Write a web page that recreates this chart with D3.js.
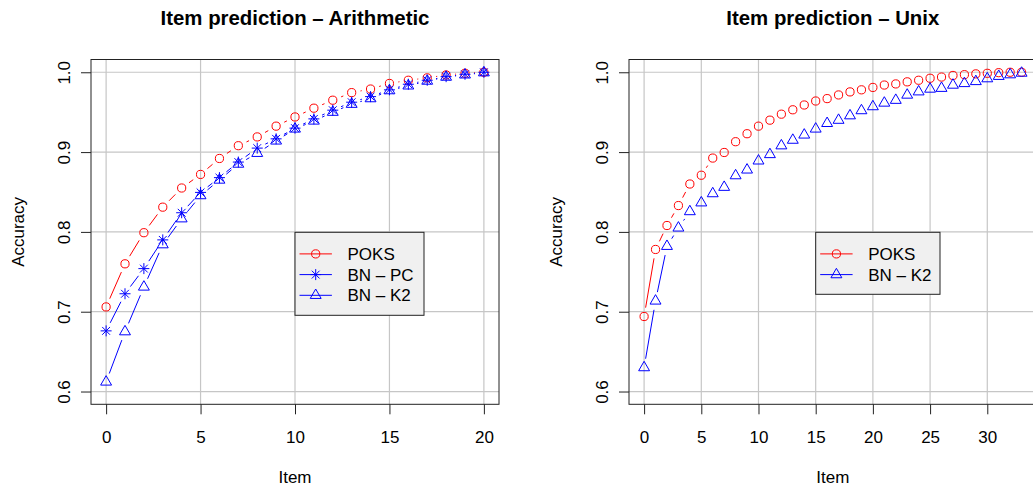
<!DOCTYPE html>
<html lang="en">
<head>
<meta charset="UTF-8"/>
<title>Item prediction</title>
<script src="https://d3js.org/d3.v7.min.js"></script>
<style>
	body { margin: 0; background: #fff; }
	svg { display: block; font-family: "Liberation Sans", Arial, Helvetica, sans-serif; }
</style>
</head>
<body>
<script>

// ---- data ----
var arithItems = [0, 1, 2, 3, 4, 5, 6, 7, 8, 9, 10, 11, 12, 13, 14, 15, 16, 17, 18, 19, 20];
var arithPoks = [0.706, 0.760, 0.799, 0.831, 0.855, 0.872, 0.892, 0.908, 0.919, 0.9325, 0.944,
                 0.955, 0.965, 0.9745, 0.979, 0.986, 0.990, 0.993, 0.9966, 0.9987, 1.0];
var arithBnPc = [0.676, 0.7225, 0.754, 0.790, 0.824, 0.8495, 0.868, 0.8875, 0.905, 0.9166, 0.930,
                 0.9416, 0.9525, 0.9625, 0.9695, 0.978, 0.985, 0.990, 0.9945, 0.9975, 1.0];
var arithBnK2 = [0.612, 0.675, 0.731, 0.784, 0.8165, 0.8455, 0.865, 0.885, 0.8985, 0.914, 0.929,
                 0.939, 0.950, 0.960, 0.967, 0.977, 0.983, 0.989, 0.994, 0.9968, 0.9995];

var unixItems = [0, 1, 2, 3, 4, 5, 6, 7, 8, 9, 10, 11, 12, 13, 14, 15, 16,
                 17, 18, 19, 20, 21, 22, 23, 24, 25, 26, 27, 28, 29, 30, 31, 32, 33];
var unixPoks = [0.694, 0.778, 0.808, 0.833, 0.860, 0.871, 0.8925, 0.8995, 0.913, 0.923, 0.9325,
                0.940, 0.9475, 0.953, 0.959, 0.964, 0.967, 0.9716, 0.9754, 0.978, 0.981,
                0.984, 0.9854, 0.988, 0.990, 0.9925, 0.994, 0.996, 0.997, 0.998, 0.9987,
                0.9995, 1.0, 1.0];
var unixBnK2 = [0.630, 0.7135, 0.782, 0.805, 0.8255, 0.8365, 0.848, 0.856, 0.8705, 0.8777, 0.889,
                0.897, 0.908, 0.915, 0.9215, 0.929, 0.936, 0.940, 0.9456, 0.952, 0.957,
                0.9615, 0.965, 0.9715, 0.9756, 0.979, 0.980, 0.984, 0.986, 0.9885, 0.992,
                0.995, 0.997, 0.999];

var yTicks = [0.6, 0.7, 0.8, 0.9, 1.0];
var arithXTicks = [0, 5, 10, 15, 20];
var unixXTicks = [0, 5, 10, 15, 20, 25, 30];

var RED = "#ff0000", BLUE = "#0000ff";

var w = 1033, h = 487;
var svg = d3.select("body").append("svg")
	.attr("width", w)
	.attr("height", h);

// marker shapes (R pch 1, 8, 2)
function drawMarker(g, shape, x, y, col) {
	if (shape == "circle") {
		g.append("circle").attr("cx", x).attr("cy", y).attr("r", 4.1)
			.attr("fill", "none").attr("stroke", col).attr("stroke-width", 1);
	} else if (shape == "star") {
		var a = 3.9, b = 5.5;
		g.append("path")
			.attr("d", "M" + (x - a) + "," + (y - a) + "L" + (x + a) + "," + (y + a) +
				"M" + (x - a) + "," + (y + a) + "L" + (x + a) + "," + (y - a) +
				"M" + (x - b) + "," + y + "L" + (x + b) + "," + y +
				"M" + x + "," + (y - b) + "L" + x + "," + (y + b))
			.attr("fill", "none").attr("stroke", col).attr("stroke-width", 1);
	} else {
		var r = 6.3, hx = r * Math.sqrt(3) / 2;
		g.append("path")
			.attr("d", "M" + x + "," + (y - r) + "L" + (x + hx) + "," + (y + r / 2) +
				"L" + (x - hx) + "," + (y + r / 2) + "Z")
			.attr("fill", "none").attr("stroke", col).attr("stroke-width", 1);
	}
}

function drawPanel(p) {
	var g = svg.append("g");

	var x = d3.scaleLinear().domain(p.xDomain).range([p.left, p.right]);
	var y = d3.scaleLinear().domain([0.584, 1.016]).range([p.bottom, p.top]);

	// grid
	g.selectAll(".gx").data(p.xTicks).enter().append("line")
		.attr("x1", function(d) { return x(d); }).attr("x2", function(d) { return x(d); })
		.attr("y1", p.top).attr("y2", p.bottom)
		.attr("stroke", "#c6c6c6").attr("stroke-width", 1.2);
	g.selectAll(".gy").data(yTicks).enter().append("line")
		.attr("x1", p.left).attr("x2", p.right)
		.attr("y1", function(d) { return y(d); }).attr("y2", function(d) { return y(d); })
		.attr("stroke", "#c6c6c6").attr("stroke-width", 1.2);

	// series: type "b" lines with gaps around points
	var gap = 9;
	p.series.forEach(function(s) {
		for (var i = 0; i < s.values.length - 1; i++) {
			var x0 = x(p.items[i]), y0 = y(s.values[i]);
			var x1 = x(p.items[i + 1]), y1 = y(s.values[i + 1]);
			var dx = x1 - x0, dy = y1 - y0, len = Math.sqrt(dx * dx + dy * dy);
			if (len > 2 * gap) {
				g.append("line")
					.attr("x1", x0 + dx / len * gap).attr("y1", y0 + dy / len * gap)
					.attr("x2", x1 - dx / len * gap).attr("y2", y1 - dy / len * gap)
					.attr("stroke", s.color).attr("stroke-width", 1);
			}
		}
		s.values.forEach(function(v, i) {
			drawMarker(g, s.shape, x(p.items[i]), y(v), s.color);
		});
	});

	// box
	g.append("rect")
		.attr("x", p.left).attr("y", p.top)
		.attr("width", p.right - p.left).attr("height", p.bottom - p.top)
		.attr("fill", "none").attr("stroke", "#222").attr("stroke-width", 1);

	// axes
	var xAxis = d3.axisBottom(x).tickValues(p.xTicks).tickSize(10).tickSizeOuter(0).tickPadding(14);
	var gx = g.append("g")
		.attr("transform", "translate(0," + p.bottom + ")")
		.call(xAxis);
	gx.select(".domain").remove();
	gx.selectAll("line").attr("stroke", "#222");
	gx.selectAll("text").attr("font-size", 17).attr("fill", "#000")
		.attr("dy", null).attr("y", 39).attr("font-family", null);

	var yAxis = d3.axisLeft(y).tickValues(yTicks).tickSize(10).tickSizeOuter(0)
		.tickFormat(d3.format(".1f"));
	var gy = g.append("g")
		.attr("transform", "translate(" + p.left + ",0)")
		.call(yAxis);
	gy.select(".domain").remove();
	gy.selectAll("line").attr("stroke", "#222");
	gy.selectAll("text")
		.attr("font-size", 17).attr("fill", "#000").attr("font-family", null)
		.attr("x", null).attr("dy", null)
		.attr("text-anchor", "middle")
		.attr("transform", "translate(-21,0) rotate(-90)");

	// titles
	svg.append("text")
		.attr("x", (p.left + p.right) / 2).attr("y", 25)
		.attr("text-anchor", "middle")
		.attr("font-size", 20.4).attr("font-weight", "bold")
		.text(p.title);
	svg.append("text")
		.attr("x", (p.left + p.right) / 2).attr("y", 483)
		.attr("text-anchor", "middle").attr("font-size", 17)
		.text("Item");
	svg.append("text")
		.attr("transform", "translate(" + (p.left - 67.5) + "," + ((p.top + p.bottom) / 2) + ") rotate(-90)")
		.attr("text-anchor", "middle").attr("font-size", 17)
		.text("Accuracy");

	// legend
	var lg = svg.append("g");
	lg.append("rect")
		.attr("x", p.legend.x).attr("y", p.legend.y)
		.attr("width", p.legend.w).attr("height", p.legend.h)
		.attr("fill", "#f0f0f0").attr("stroke", "#222").attr("stroke-width", 1);
	p.series.forEach(function(s, i) {
		var cy = p.legend.y + 21.6 + i * 20.7;
		var lx = p.legend.x + 4.5;
		lg.append("line")
			.attr("x1", lx).attr("x2", lx + 32.4)
			.attr("y1", cy).attr("y2", cy)
			.attr("stroke", s.color).attr("stroke-width", 1);
		drawMarker(lg, s.shape, lx + 16.2, cy, s.color);
		lg.append("text")
			.attr("x", p.legend.x + 52.5).attr("y", cy + 6.1)
			.attr("font-size", 17)
			.text(s.name);
	});
}

drawPanel({
	title: "Item prediction \u2013 Arithmetic",
	left: 91, right: 499, top: 59.5, bottom: 404.3,
	xDomain: [-0.8, 20.8],
	xTicks: arithXTicks,
	items: arithItems,
	series: [
		{ name: "POKS", values: arithPoks, color: RED, shape: "circle" },
		{ name: "BN \u2013 PC", values: arithBnPc, color: BLUE, shape: "star" },
		{ name: "BN \u2013 K2", values: arithBnK2, color: BLUE, shape: "triangle" }
	],
	legend: { x: 295, y: 232.3, w: 129, h: 83 }
});

drawPanel({
	title: "Item prediction \u2013 Unix",
	left: 629, right: 1036.7, top: 59.5, bottom: 404.3,
	xDomain: [-1.32, 34.32],
	xTicks: unixXTicks,
	items: unixItems,
	series: [
		{ name: "POKS", values: unixPoks, color: RED, shape: "circle" },
		{ name: "BN \u2013 K2", values: unixBnK2, color: BLUE, shape: "triangle" }
	],
	legend: { x: 815.7, y: 232.3, w: 124.3, h: 62 }
});

</script>
</body>
</html>
